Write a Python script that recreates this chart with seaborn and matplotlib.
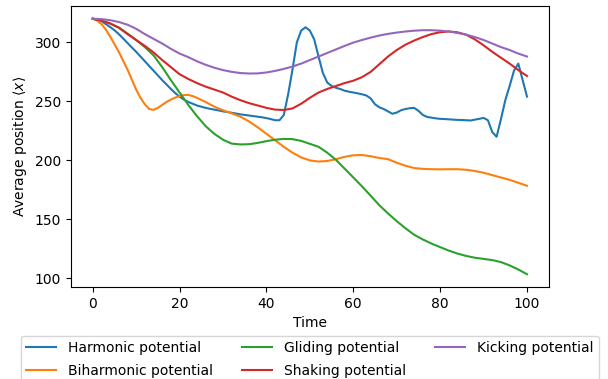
import numpy as np
import pandas as pd
import matplotlib
matplotlib.use("Agg")
import matplotlib.pyplot as plt
import seaborn as sns

# Sampling times
time_fine = list(range(0, 101, 1))
time_coarse = list(range(0, 101, 2))
time_biharmonic = list(range(0, 24, 1)) + list(range(24, 101, 2))

harmonic = [
    320, 319.5, 318, 315.5, 313, 310.3, 307, 303.3, 299.5, 295.7,
    292, 288, 284, 280, 276, 272, 268, 264.3, 260.5, 257,
    254, 251.5, 249.5, 248, 246.5, 245.5, 244.5, 243.7, 243, 242.3,
    241.5, 241, 240.3, 239.7, 239, 238.5, 238, 237.5, 237, 236.5,
    235.8, 235, 234, 234, 238.5, 256, 277, 300, 310, 312.8,
    310, 302.5, 288, 274, 266, 263, 261.5, 260.5, 259, 258.2,
    257.5, 256.8, 256, 255, 252.5, 247.5, 245, 243.5, 241.5, 239.5,
    240.5, 242.5, 243.5, 244.2, 244.5, 242, 238.5, 236.8, 236.2, 235.6,
    235.2, 235, 234.8, 234.5, 234.3, 234.2, 234, 233.8, 234.5, 235.2,
    236, 234, 224, 220, 235, 251, 263, 276, 282, 268,
    254,
]

biharmonic = [
    320, 318.5, 315.5, 311, 305, 298.5, 292, 284.5, 277, 268.5,
    260, 253, 247.5, 243.5, 242.8, 244.5, 247, 249.5, 251.5, 253.2,
    254.5, 255.3, 255.5, 254.5,
    253, 249.5, 245.5, 242.5, 239.8, 237, 233, 228,
    222.5, 217, 211.5, 206.5, 202.5, 200, 199, 199.5, 201, 203,
    204.3, 204.5, 203.5, 202, 201, 198, 195.5, 193.5, 192.8, 192.5,
    192.4, 192.5, 192.5, 192, 191, 189.5, 187.5, 185.5, 183.5, 181,
    178.5,
]

gliding = [
    320, 318.5, 316, 312.5, 307.5, 302, 296, 289, 279, 268,
    257.5, 247, 237.5, 229, 222.5, 217.5, 214.2, 213.5, 213.7, 214.8,
    216.3, 217.5, 218.2, 218, 216.5, 214, 211.5, 206.5, 200.5, 193,
    185.5, 178, 170, 162, 155, 148.5, 142.5, 137, 133, 129.5,
    126.5, 123.5, 121, 119, 117.5, 116.5, 115.5, 113.8, 111, 107.5,
    103.5,
]

shaking = [
    320, 318.5, 316, 312.5, 307, 302, 297, 291.5, 285, 279,
    273, 269, 265.5, 262.5, 260, 257.5, 254, 251, 248.5, 246.5,
    244.5, 243, 242.7, 244, 248, 253, 257.5, 260.5, 263, 265.5,
    267.5, 270.5, 275, 281.5, 288, 293.5, 298, 301.5, 304.5, 307,
    308.6, 309.2, 308.5, 306.5, 302.5, 297.5, 292, 287, 282, 276.5,
    271.5,
]

kicking = [
    320, 319.7, 318.8, 317.3, 315, 311.5, 307, 303, 299, 294.5,
    290.5, 287.5, 284, 281, 278.5, 276.5, 275, 274, 273.6, 273.7,
    274.5, 275.8, 277.5, 279.5, 282, 285, 288, 291, 294, 297,
    299.8, 302, 304, 305.8, 307.2, 308.3, 309.2, 309.9, 310.3, 310.3,
    309.9, 309.2, 308, 306.5, 304.5, 302, 299, 296, 293.5, 290.5,
    288,
]

series_names = [
    "Harmonic potential",
    "Biharmonic potential",
    "Gliding potential",
    "Shaking potential",
    "Kicking potential",
]
series_values = [harmonic, biharmonic, gliding, shaking, kicking]
series_times = [time_fine, time_biharmonic, time_coarse, time_coarse, time_coarse]

frames = [
    pd.DataFrame({"Time": t, "value": v, "potential": name})
    for name, t, v in zip(series_names, series_times, series_values)
]
data = pd.concat(frames, ignore_index=True)

fig = plt.figure(figsize=(6.08, 3.79), dpi=100)
ax = fig.add_axes([0.1168, 0.2427, 0.9025 - 0.1168, 0.9842 - 0.2427])

palette = sns.color_palette("tab10", 5)
for i, name in enumerate(series_names):
    sub = data[data["potential"] == name]
    sns.lineplot(data=sub, x="Time", y="value", color=palette[i],
                 label=name, ax=ax, linewidth=1.5)

ax.set_xlabel("Time")
ax.set_ylabel(r"Average position $\langle x\rangle$")
ax.set_xticks([0, 20, 40, 60, 80, 100])
ax.set_yticks([100, 150, 200, 250, 300])

ax.legend(loc="upper center", bbox_to_anchor=(0.5, -0.148), ncol=3,
          fontsize=10, handlelength=2.15, handletextpad=0.86,
          columnspacing=2.1, labelspacing=0.62)

fig.savefig("out.png", dpi=100)
